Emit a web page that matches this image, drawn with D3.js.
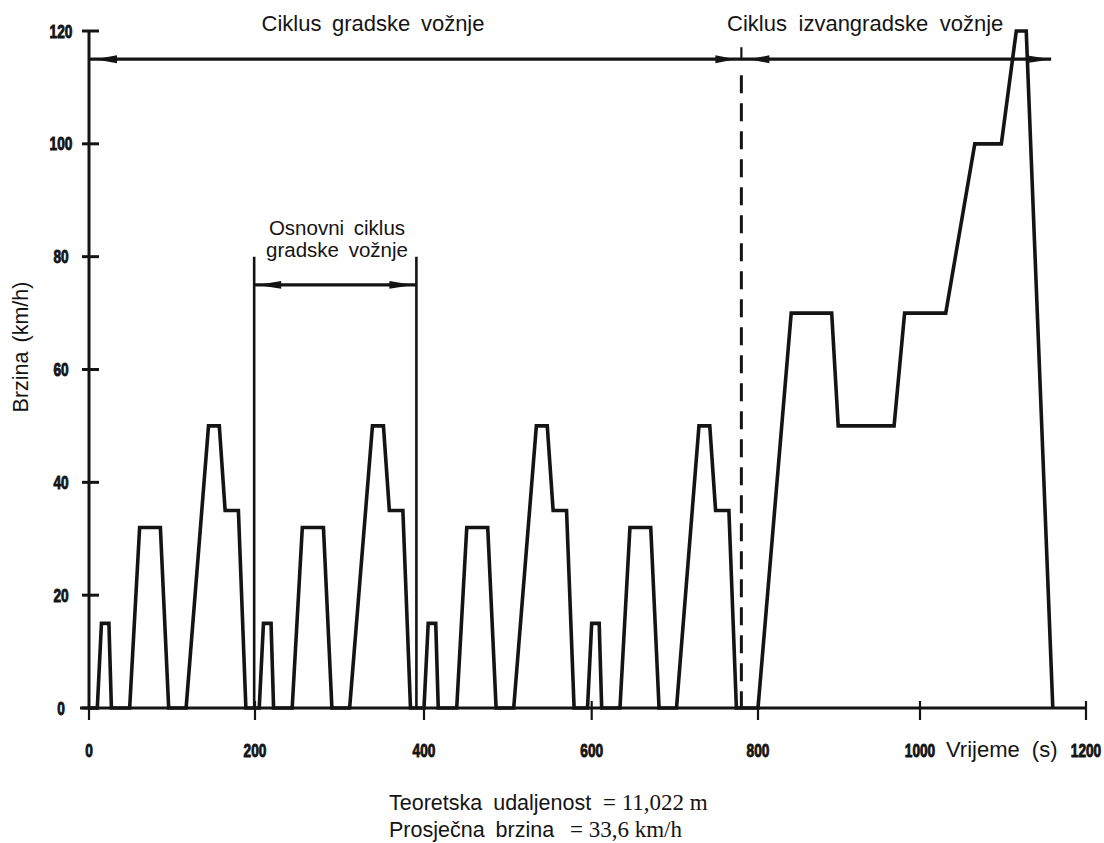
<!DOCTYPE html>
<html><head><meta charset="utf-8">
<script src="https://cdn.jsdelivr.net/npm/d3@7"></script>
<style>html,body{margin:0;padding:0;background:#fff;} svg{display:block}</style>
</head><body>
<svg id="chart" width="1104" height="843"></svg>
<script>
// ---- data ----
const timeS = [
  0,10,15,24,27,49,61,86,96,117,144,157,164,180,189,
  195,205,210,219,222,244,256,281,291,312,339,352,359,375,384,
  390,400,405,414,417,439,451,476,486,507,534,547,554,570,579,
  585,595,600,609,612,634,646,671,681,702,729,742,749,765,774,
  780,800,841,891,899,968,981,1031,1066,1098,1116,1128,1160
];
const speedKmh = [
  0,0,15,15,0,0,32,32,0,0,50,50,35,35,0,
  0,0,15,15,0,0,32,32,0,0,50,50,35,35,0,
  0,0,15,15,0,0,32,32,0,0,50,50,35,35,0,
  0,0,15,15,0,0,32,32,0,0,50,50,35,35,0,
  0,0,70,70,50,50,70,70,100,100,120,120,0
];
const xTickValues = [0,200,400,600,800,1000,1200];
const xTickLabels = ["0","200","400","600","800","1000","1200"];
const yTickValues = [0,20,40,60,80,100,120];
const yTickLabels = ["0","20","40","60","80","100","120"];
const urbanCycleSpan = [0, 780];
const extraUrbanSpan = [780, 1158];
const cycleBracketSpeed = 115;
const basicCycleSpan = [199, 391];
const basicCycleBracketSpeed = 75;
const basicCycleLineTop = 80;
const titleLabels = ["Ciklus gradske vožnje", "Ciklus izvangradske vožnje"];
const basicCycleLabels = ["Osnovni ciklus", "gradske vožnje"];
const xAxisTitle = "Vrijeme (s)";
const yAxisTitle = "Brzina (km/h)";
const noteLabels = ["Teoretska udaljenost", "Prosječna brzina"];
const noteValues = ["= 11,022 m", "= 33,6 km/h"];

// ---- drawing ----
const ink = "#141414";
const sans = "'Liberation Sans', Arial, Helvetica, sans-serif";
const serif = "'Liberation Serif', 'Times New Roman', serif";

const svg = d3.select("#chart");
// the scanned axis is slightly uneven, so the x scale is piecewise through its tick marks
const x = d3.scaleLinear().domain(xTickValues).range([89, 255, 424, 591.7, 758, 920, 1086]);
const y = d3.scaleLinear().domain([0, 120]).range([708, 31]);

// y axis line
svg.append("line").attr("x1", x(0)).attr("x2", x(0)).attr("y1", y(120)).attr("y2", y(0))
  .attr("stroke", ink).attr("stroke-width", 3);
// x axis line
svg.append("line").attr("x1", x(0) - 9).attr("x2", x(1200)).attr("y1", y(0)).attr("y2", y(0))
  .attr("stroke", ink).attr("stroke-width", 3.2);

// y ticks
svg.append("g").selectAll("line").data(yTickValues).join("line")
  .attr("x1", x(0) - 7).attr("x2", x(0) + 10)
  .attr("y1", d => y(d)).attr("y2", d => y(d))
  .attr("stroke", ink).attr("stroke-width", 3);
svg.append("g").selectAll("text").data(yTickValues).join("text")
  .attr("transform", d => `translate(61,${y(d) + 6.5}) scale(0.76,1)`)
  .attr("text-anchor", "middle")
  .attr("font-family", sans).attr("font-weight", "bold").attr("font-size", 18)
  .attr("fill", ink).attr("stroke", ink).attr("stroke-width", 0.9)
  .text((d, i) => yTickLabels[i]);

// x ticks
svg.append("g").selectAll("line").data(xTickValues).join("line")
  .attr("x1", d => x(d)).attr("x2", d => x(d))
  .attr("y1", d => d === 0 ? y(0) : y(0) - 7).attr("y2", y(0) + 12)
  .attr("stroke", ink).attr("stroke-width", 2.2);
svg.append("g").selectAll("text").data(xTickValues).join("text")
  .attr("transform", d => `translate(${x(d)},757) scale(0.76,1)`)
  .attr("text-anchor", "middle")
  .attr("font-family", sans).attr("font-weight", "bold").attr("font-size", 18)
  .attr("fill", ink).attr("stroke", ink).attr("stroke-width", 0.9)
  .text((d, i) => xTickLabels[i]);

// speed trace
const line = d3.line().x(d => x(d[0])).y(d => y(d[1]));
svg.append("path")
  .attr("d", line(timeS.map((t, i) => [t, speedKmh[i]])))
  .attr("fill", "none").attr("stroke", ink).attr("stroke-width", 3.6)
  .attr("stroke-linejoin", "miter");

// arrowhead helper
function arrow(tipX, yy, dir, len, hw) {
  svg.append("path")
    .attr("d", `M${tipX},${yy} L${tipX - dir * len},${yy - hw} L${tipX - dir * len},${yy + hw} Z`)
    .attr("fill", ink);
}

// top cycle bracket line
const yTop = y(cycleBracketSpeed);
svg.append("line").attr("x1", x(urbanCycleSpan[0])).attr("x2", x(extraUrbanSpan[1]))
  .attr("y1", yTop).attr("y2", yTop).attr("stroke", ink).attr("stroke-width", 3.2);
arrow(x(urbanCycleSpan[0]) + 6, yTop, -1, 22, 4);
arrow(x(urbanCycleSpan[1]) - 6, yTop, 1, 20, 4);
arrow(x(extraUrbanSpan[0]) + 8, yTop, -1, 20, 4);
arrow(x(extraUrbanSpan[1]), yTop, 1, 22, 3.5);
// small tick at the boundary on the top line
svg.append("line").attr("x1", x(urbanCycleSpan[1])).attr("x2", x(urbanCycleSpan[1]))
  .attr("y1", yTop - 12).attr("y2", yTop).attr("stroke", ink).attr("stroke-width", 2.2);

// dashed boundary between urban and extra-urban cycle
svg.append("line").attr("x1", x(urbanCycleSpan[1])).attr("x2", x(urbanCycleSpan[1]))
  .attr("y1", yTop + 16).attr("y2", y(0))
  .attr("stroke", ink).attr("stroke-width", 3).attr("stroke-dasharray", "18,10");

// basic cycle bracket
const yB = y(basicCycleBracketSpeed);
basicCycleSpan.forEach(t => {
  svg.append("line").attr("x1", x(t)).attr("x2", x(t))
    .attr("y1", y(basicCycleLineTop)).attr("y2", y(0))
    .attr("stroke", ink).attr("stroke-width", 2.6);
});
svg.append("line").attr("x1", x(basicCycleSpan[0])).attr("x2", x(basicCycleSpan[1]))
  .attr("y1", yB).attr("y2", yB).attr("stroke", ink).attr("stroke-width", 3.2);
arrow(x(basicCycleSpan[0]) + 3, yB, -1, 24, 3.8);
arrow(x(basicCycleSpan[1]) - 3, yB, 1, 24, 3.8);

// texts
const txt = (s, xx, yy, opts = {}) => svg.append("text")
  .attr("x", xx).attr("y", yy)
  .attr("font-family", opts.family || sans)
  .attr("font-size", opts.size || 22)
  .attr("text-anchor", opts.anchor || "start")
  .attr("word-spacing", opts.ws != null ? opts.ws : 5)
  .attr("fill", ink).text(s);

txt(titleLabels[0], 373, 31, { anchor: "middle", ws: 4.5 });
txt(titleLabels[1], 727, 31, { ws: 5.5 });
txt(basicCycleLabels[0], 337, 235, { anchor: "middle", ws: 4, size: 20.5 });
txt(basicCycleLabels[1], 337, 257, { anchor: "middle", ws: 4, size: 20.5 });
txt(xAxisTitle, 946, 757, { ws: 6 });
svg.append("text")
  .attr("transform", "translate(28,347) rotate(-90)")
  .attr("text-anchor", "middle")
  .attr("font-family", sans).attr("font-size", 21.5).attr("word-spacing", 3)
  .attr("fill", ink).text(yAxisTitle);

// notes under the chart
const noteY = [810, 837];
const noteValueX = [603, 570];
noteLabels.forEach((s, i) => {
  txt(s, 389, noteY[i], { size: 21.5, ws: 5 });
  txt(noteValues[i], noteValueX[i], noteY[i], { family: serif, size: 23, ws: 0 });
});
</script>
</body></html>
